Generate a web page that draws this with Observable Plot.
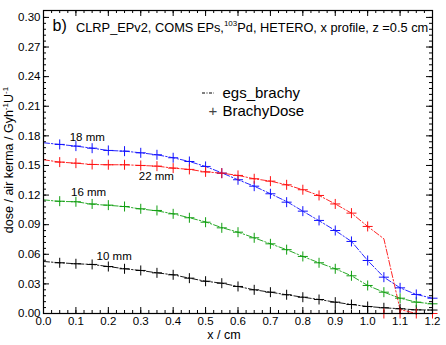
<!DOCTYPE html>
<html><head><meta charset="utf-8">
<script src="https://cdn.jsdelivr.net/npm/d3@7"></script>
<script src="https://cdn.jsdelivr.net/npm/@observablehq/plot@0.6"></script>
<style>body{margin:0;background:#fff}svg{display:block}</style>
</head><body><div id="chart"></div>
<script>
// x positions (cm) of egs_brachy line points
const xEgs = [0, 0.05, 0.1, 0.15, 0.2, 0.25, 0.3, 0.35, 0.4, 0.45, 0.5, 0.55, 0.6, 0.65, 0.7, 0.75, 0.8, 0.85, 0.9, 0.95, 1.0, 1.05, 1.1, 1.15, 1.2];
// x positions (cm) of BrachyDose markers
const xBrachy = [0.05, 0.1, 0.15, 0.2, 0.25, 0.3, 0.35, 0.4, 0.45, 0.5, 0.55, 0.6, 0.65, 0.7, 0.75, 0.8, 0.85, 0.9, 0.95, 1.0, 1.05, 1.1, 1.15, 1.2];

const seriesNames = ["10 mm", "16 mm", "18 mm", "22 mm"];
const seriesColors = ["#000000", "#119f11", "#1010ff", "#ff1010"];

// egs_brachy (dash-dot lines)
const egs10 = [0.0527, 0.0514, 0.0504, 0.0497, 0.0476, 0.0453, 0.0436, 0.0412, 0.0392, 0.0358, 0.0327, 0.0307, 0.0274, 0.0240, 0.0216, 0.0190, 0.0165, 0.0142, 0.0115, 0.0091, 0.0071, 0.0058, 0.0048, 0.0037, 0.0035];
const egs16 = [0.1152, 0.1135, 0.1133, 0.1107, 0.1096, 0.1084, 0.1059, 0.1040, 0.1010, 0.0970, 0.0928, 0.0870, 0.0824, 0.0767, 0.0706, 0.0647, 0.0578, 0.0514, 0.0453, 0.0382, 0.0284, 0.0216, 0.0155, 0.0115, 0.0098];
const egs18 = [0.1730, 0.1713, 0.1696, 0.1675, 0.1652, 0.1645, 0.1628, 0.1608, 0.1578, 0.1540, 0.1490, 0.1425, 0.1355, 0.1290, 0.1213, 0.1135, 0.1037, 0.0940, 0.0841, 0.0730, 0.0537, 0.0368, 0.0260, 0.0193, 0.0155];
const egs22 = [0.1558, 0.1534, 0.1523, 0.1510, 0.1507, 0.1507, 0.1500, 0.1493, 0.1473, 0.1460, 0.1435, 0.1422, 0.1399, 0.1365, 0.1341, 0.1304, 0.1254, 0.1196, 0.1110, 0.1017, 0.0882, 0.0757, 0.0040, 0.0000, 0.0000];

// BrachyDose (+ markers)
const bd10 = [0.0514, 0.0504, 0.0497, 0.0476, 0.0453, 0.0436, 0.0412, 0.0392, 0.0358, 0.0327, 0.0307, 0.0274, 0.0240, 0.0216, 0.0190, 0.0165, 0.0142, 0.0115, 0.0091, 0.0071, 0.0058, 0.0048, 0.0037, 0.0035];
const bd16 = [0.1138, 0.1132, 0.1110, 0.1098, 0.1084, 0.1061, 0.1044, 0.1010, 0.0970, 0.0925, 0.0868, 0.0824, 0.0767, 0.0706, 0.0647, 0.0578, 0.0514, 0.0453, 0.0382, 0.0284, 0.0216, 0.0155, 0.0115, 0.0098];
const bd18 = [0.1713, 0.1696, 0.1675, 0.1652, 0.1645, 0.1628, 0.1608, 0.1578, 0.1540, 0.1490, 0.1422, 0.1355, 0.1290, 0.1213, 0.1128, 0.1037, 0.0943, 0.0841, 0.0730, 0.0537, 0.0368, 0.0260, 0.0193, 0.0155];
const bd22 = [0.1534, 0.1523, 0.1510, 0.1507, 0.1507, 0.1500, 0.1493, 0.1473, 0.1460, 0.1435, 0.1422, 0.1399, 0.1365, 0.1341, 0.1304, 0.1254, 0.1196, 0.1110, 0.1017, 0.0882, 0.0000, 0.0000, 0.0000, 0.0000];

const xTicks = [0, 0.1, 0.2, 0.3, 0.4, 0.5, 0.6, 0.7, 0.8, 0.9, 1.0, 1.1, 1.2];
const yTicks = [0, 0.03, 0.06, 0.09, 0.12, 0.15, 0.18, 0.21, 0.24, 0.27, 0.30];
const xMinorStep = 0.025, yMinorStep = 0.006;

const W = 446, H = 345, mL = 43, mR = 14, mT = 10, mB = 32;
const iW = W - mL - mR, iH = H - mT - mB;

const egsSets = [egs10, egs16, egs18, egs22];
const bdSets = [bd10, bd16, bd18, bd22];
const egsRows = [], bdRows = [];
seriesNames.forEach((s, i) => {
  egsSets[i].forEach((v, j) => egsRows.push({s, x: xEgs[j], y: v}));
  bdSets[i].forEach((v, j) => bdRows.push({s, x: xBrachy[j], y: v}));
});
const xMinor = d3.range(0, 1.2 + 1e-9, xMinorStep);
const yMinor = d3.range(0, 0.30 + 1e-9, yMinorStep);

const plusSym = {draw(ctx, size) {const r = Math.sqrt(size / Math.PI); ctx.moveTo(-r, 0); ctx.lineTo(r, 0); ctx.moveTo(0, -r); ctx.lineTo(0, r);}};

const font = "'Liberation Sans', Arial, Helvetica, sans-serif";
const chart = Plot.plot({
  width: W, height: H, marginLeft: mL, marginRight: mR, marginTop: mT, marginBottom: mB,
  x: {domain: [0, 1.2]},
  y: {domain: [0, 0.307]},
  color: {domain: seriesNames, range: seriesColors},
  style: {fontFamily: font, fontSize: "11.5px", background: "#fff", color: "#000", overflow: "visible"},
  marks: [
    Plot.tickX(xMinor, {x: d => d, insetTop: iH - 3, stroke: "#000"}),
    Plot.tickX(xMinor, {x: d => d, insetBottom: iH - 3, stroke: "#000"}),
    Plot.tickX(xTicks, {x: d => d, insetTop: iH - 6, stroke: "#000"}),
    Plot.tickX(xTicks, {x: d => d, insetBottom: iH - 6, stroke: "#000"}),
    Plot.tickY(yMinor, {y: d => d, insetRight: iW - 3, stroke: "#000"}),
    Plot.tickY(yMinor, {y: d => d, insetLeft: iW - 3, stroke: "#000"}),
    Plot.tickY(yTicks, {y: d => d, insetRight: iW - 6, stroke: "#000"}),
    Plot.tickY(yTicks, {y: d => d, insetLeft: iW - 6, stroke: "#000"}),
    Plot.axisX({ticks: xTicks, tickSize: 0, tickPadding: 3, tickFormat: d3.format(".1f"), label: null, fontSize: 11.5}),
    Plot.axisY({ticks: yTicks, tickSize: 0, tickPadding: 3, tickFormat: d3.format(".2f"), label: null, fontSize: 11.5}),
    Plot.line(egsRows, {x: "x", y: "y", z: "s", stroke: "s", strokeWidth: 0.9, strokeDasharray: "6,2,1.5,2"}),
    Plot.dot(bdRows, {x: "x", y: "y", stroke: "s", symbol: plusSym, r: 5, fill: "none", strokeWidth: 1}),
    Plot.frame({stroke: "#000", strokeWidth: 1.2}),
    Plot.text(["18 mm"], {x: 0.135, y: 0.179, fontSize: 11.5}),
    Plot.text(["22 mm"], {x: 0.348, y: 0.139, fontSize: 11.5}),
    Plot.text(["16 mm"], {x: 0.139, y: 0.1225, fontSize: 11.5}),
    Plot.text(["10 mm"], {x: 0.218, y: 0.0575, fontSize: 11.5}),
    Plot.text(["b)"], {frameAnchor: "top-left", dx: 9, dy: 15, textAnchor: "start", lineAnchor: "middle", fontSize: 16}),
    Plot.text(["egs_brachy"], {frameAnchor: "top-left", dx: 222 - mL, dy: 93 - mT, textAnchor: "start", lineAnchor: "middle", fontSize: 15}),
    Plot.text(["BrachyDose"], {frameAnchor: "top-left", dx: 222 - mL, dy: 111 - mT, textAnchor: "start", lineAnchor: "middle", fontSize: 15}),
    Plot.text(["+"], {frameAnchor: "top-left", dx: 208 - mL, dy: 111 - mT, lineAnchor: "middle", fontSize: 15, fill: "#444"})
  ]
});

const svg = d3.select(chart);
// legend line sample
svg.append("line").attr("x1", 202).attr("x2", 214).attr("y1", 93).attr("y2", 93)
  .attr("stroke", "#000").attr("stroke-width", 1).attr("stroke-dasharray", "3,1.5,1,1.5");
// title with superscript
const t = svg.append("text").attr("x", 76).attr("y", 32).attr("text-anchor", "start").attr("font-size", 12.8).attr("font-family", font).attr("fill", "#000");
t.append("tspan").text("CLRP_EPv2, COMS EPs,");
t.append("tspan").attr("dy", -6).attr("font-size", 8).text("103");
t.append("tspan").attr("dy", 6).text("Pd, HETERO, x profile, z =0.5 cm");
// x axis title
svg.append("text").attr("x", 224).attr("y", 339).attr("text-anchor", "middle").attr("font-size", 12.5).attr("font-family", font).text("x / cm");
// y axis title
const yl = svg.append("text").attr("transform", "translate(13,160) rotate(-90)").attr("text-anchor", "middle").attr("font-size", 12.5).attr("font-family", font);
yl.append("tspan").text("dose / air kerma / Gyh");
yl.append("tspan").attr("dy", -5).attr("font-size", 8).text("-1");
yl.append("tspan").attr("dy", 5).text("U");
yl.append("tspan").attr("dy", -5).attr("font-size", 8).text("-1");

document.getElementById("chart").appendChild(chart);
</script>
</body></html>
